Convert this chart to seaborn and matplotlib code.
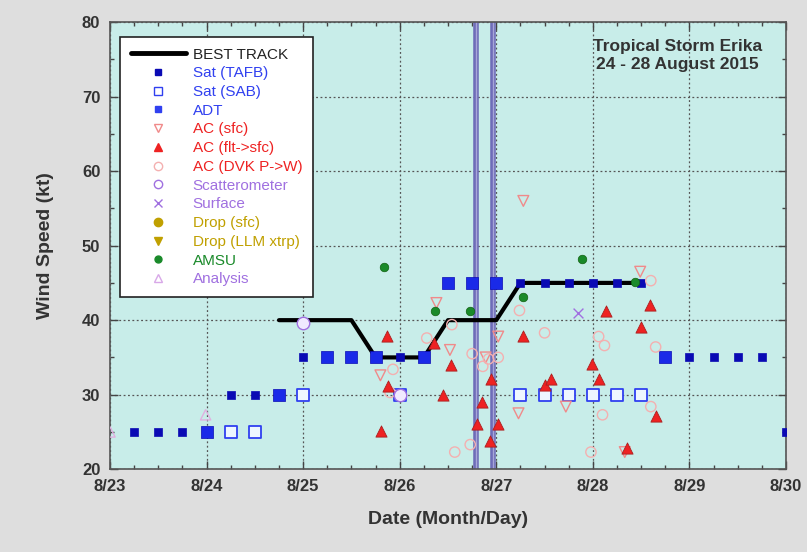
import numpy as np
import pandas as pd
import matplotlib
matplotlib.use("Agg")
import matplotlib.pyplot as plt
from matplotlib.lines import Line2D
from matplotlib.ticker import MultipleLocator
import seaborn as sns

# times are days after 8/23 00Z
best_t = [1.75, 2.5, 2.75, 3.25, 3.5, 4.0, 4.25, 5.5]
best_v = [40, 40, 35, 35, 40, 40, 45, 45]

tafb_t = [0.25, 0.5, 0.75, 1.0, 1.25, 1.5, 1.75, 2.0, 2.25, 2.5, 2.75, 3.0, 3.25,
          3.5, 3.75, 4.0, 4.25, 4.5, 4.75, 5.0, 5.25, 5.5,
          5.75, 6.0, 6.25, 6.5, 6.75, 7.0]
tafb_v = [25, 25, 25, 25, 30, 30, 30, 35, 35, 35, 35, 35, 35,
          45, 45, 45, 45, 45, 45, 45, 45, 45,
          35, 35, 35, 35, 35, 25]

sab_t = [1.25, 1.5, 2.0, 3.0, 4.25, 4.5, 4.75, 5.0, 5.25, 5.5]
sab_v = [25, 25, 30, 30, 30, 30, 30, 30, 30, 30]

adt_t = [1.0, 1.75, 2.25, 2.5, 2.75, 3.25, 3.5, 3.75, 4.0, 5.75]
adt_v = [25, 30, 35, 35, 35, 35, 45, 45, 45, 35]

acsfc_t = [4.28, 4.23, 5.49, 3.38, 4.72, 5.33, 2.80, 3.89, 4.02, 3.52]
acsfc_v = [56, 27.5, 46.5, 42.3, 28.4, 22.3, 32.6, 35.0, 37.8, 36.0]

acflt_t = [2.87, 2.88, 2.81, 3.36, 3.53, 3.45, 3.85, 3.80, 3.95, 3.94, 4.02,
           4.28, 4.50, 4.57, 4.99, 5.06, 5.14, 5.35, 5.50, 5.59, 5.65]
acflt_v = [37.9, 31.1, 25.1, 37.0, 34.0, 30.0, 29.0, 26.1, 32.1, 23.8, 26.0,
           37.9, 31.3, 32.1, 34.1, 32.1, 41.2, 22.9, 39.1, 42.0, 27.1]

dvk_t = [4.24, 4.50, 5.10, 5.12, 5.06, 4.98, 5.60, 5.65, 5.60, 4.02, 3.86,
         3.73, 3.57, 3.54, 3.28, 2.93, 2.90, 3.92, 3.75]
dvk_v = [41.3, 38.3, 27.3, 36.6, 37.8, 22.3, 45.3, 36.4, 28.4, 35.0, 33.8,
         23.3, 22.3, 39.4, 37.6, 33.4, 30.3, 34.8, 35.5]

scat_t = [2.0, 3.0]
scat_v = [39.6, 30.0]

sfc_t = [4.85]
sfc_v = [41.0]

amsu_t = [2.84, 3.37, 3.73, 4.28, 4.89, 5.44]
amsu_v = [47.1, 41.2, 41.2, 43.1, 48.2, 45.1]

anal_t = [0.0, 0.99]
anal_v = [25.0, 27.3]

landfall_t = [3.79, 3.97]

day_labels = ["8/23", "8/24", "8/25", "8/26", "8/27", "8/28", "8/29", "8/30"]

legend_names = ["BEST TRACK", "Sat (TAFB)", "Sat (SAB)", "ADT", "AC (sfc)",
                "AC (flt->sfc)", "AC (DVK P->W)", "Scatterometer", "Surface",
                "Drop (sfc)", "Drop (LLM xtrp)", "AMSU", "Analysis"]

C_TAFB = "#0a0ab4"
C_BLUE = "#3040f0"
C_RED = "#ee2222"
C_PINK = "#f08a8a"
C_PURP = "#a070e0"
C_OLIVE = "#c0a000"
C_GREEN = "#1a8a2a"

sns.set_style("ticks")
plt.rcParams["font.family"] = ["Liberation Sans", "DejaVu Sans"]

fig = plt.figure(figsize=(8.07, 5.52), dpi=100, facecolor="#dedede")
ax = fig.add_axes([0.1363, 0.150, 0.8377, 0.810])
ax.set_facecolor("#c8ede9")

for t in landfall_t:
    ax.axvline(t, color="#6e6cb8", lw=4, zorder=2)
    ax.axvline(t, color="#a8a6d8", lw=1.0, zorder=2)

sns.lineplot(x=best_t, y=best_v, ax=ax, color="black", lw=3, zorder=3)

def pts(t, v, **kw):
    sns.scatterplot(x=t, y=v, ax=ax, legend=False, zorder=4, **kw)

pts(tafb_t, tafb_v, marker="s", s=38, color=C_TAFB, edgecolor=C_TAFB, linewidth=0.5)
pts(adt_t, adt_v, marker="s", s=80, color="#1a2ae8", edgecolor=C_TAFB, linewidth=0.5)
pts(sab_t, sab_v, marker="s", s=65, facecolor="#eef6ff", edgecolor=C_BLUE, linewidth=1.3)
pts(acsfc_t, acsfc_v, marker="v", s=60, facecolor="none", edgecolor=C_PINK, linewidth=1)
pts(dvk_t, dvk_v, marker="o", s=55, facecolor="none", edgecolor="#f4b0b0", linewidth=1)
pts(acflt_t, acflt_v, marker="^", s=65, color=C_RED, edgecolor="#aa2020", linewidth=0.6)
pts(scat_t, scat_v, marker="o", s=80, facecolor="#f0eaff", edgecolor=C_PURP, linewidth=1)
pts(sfc_t, sfc_v, marker="x", s=50, color=C_PURP, linewidth=1)
pts(amsu_t, amsu_v, marker="o", s=38, color=C_GREEN, edgecolor="#106010", linewidth=0.5)
pts(anal_t, anal_v, marker="^", s=55, facecolor="none", edgecolor="#e0b0e0", linewidth=1)

ax.set_xlim(0, 7)
ax.set_ylim(20, 80)
ax.set_xticks(range(8))
ax.set_xticklabels(day_labels)
ax.xaxis.set_minor_locator(MultipleLocator(0.25))
ax.yaxis.set_minor_locator(MultipleLocator(5))
ax.grid(True, which="major", color="#555555", ls=(0, (1.5, 2)), lw=0.9, zorder=1)
ax.set_axisbelow(True)
ax.tick_params(which="both", direction="in", top=True, right=True, colors="#444444",
               labelcolor="#333333")
ax.tick_params(which="major", length=6, width=1, labelsize=12, pad=7)
ax.tick_params(which="minor", length=3, width=1)
for lab in ax.get_xticklabels() + ax.get_yticklabels():
    lab.set_fontweight("bold")
for sp in ax.spines.values():
    sp.set_color("#555555")
    sp.set_linewidth(1.2)

ax.set_xlabel("Date (Month/Day)", fontsize=14, fontweight="bold", color="#333333", labelpad=12)
ax.set_ylabel("Wind Speed (kt)", fontsize=14, fontweight="bold", color="#333333", labelpad=20)

ax.text(0.839, 0.925, "Tropical Storm Erika\n24 - 28 August 2015", transform=ax.transAxes,
        ha="center", va="center", fontsize=12.5, fontweight="bold", color="#333333",
        linespacing=1.25)

styles = [
    dict(color="black", lw=3.5, marker=None),
    dict(ls="none", marker="s", ms=5, color=C_TAFB),
    dict(ls="none", marker="s", ms=6, mfc="white", mec=C_BLUE),
    dict(ls="none", marker="s", ms=5, color=C_BLUE),
    dict(ls="none", marker="v", ms=6, mfc="none", mec=C_PINK),
    dict(ls="none", marker="^", ms=6, color=C_RED),
    dict(ls="none", marker="o", ms=6, mfc="none", mec="#f4b0b0"),
    dict(ls="none", marker="o", ms=6, mfc="none", mec=C_PURP),
    dict(ls="none", marker="x", ms=6, color=C_PURP),
    dict(ls="none", marker="o", ms=6, color=C_OLIVE),
    dict(ls="none", marker="v", ms=6, color=C_OLIVE),
    dict(ls="none", marker="o", ms=5, color=C_GREEN),
    dict(ls="none", marker="^", ms=6, mfc="none", mec="#d8a8e8"),
]
text_colors = ["#222222", C_BLUE, C_BLUE, C_BLUE, C_RED, C_RED, C_RED,
               C_PURP, C_PURP, C_OLIVE, C_OLIVE, C_GREEN, C_PURP]
handles = [Line2D([0], [0], **st) for st in styles]
leg = ax.legend(handles, legend_names, loc="upper left", bbox_to_anchor=(0.015, 0.967),
                frameon=True, fancybox=False, edgecolor="#222222", facecolor="white",
                framealpha=1, fontsize=11, handlelength=3.6, handletextpad=0.45,
                labelspacing=0.31, borderpad=0.7, borderaxespad=0)
leg.get_frame().set_linewidth(1.2)
for txt, c in zip(leg.get_texts(), text_colors):
    txt.set_color(c)
leg.set_zorder(10)

fig.savefig("out.png", dpi=100, facecolor=fig.get_facecolor())
